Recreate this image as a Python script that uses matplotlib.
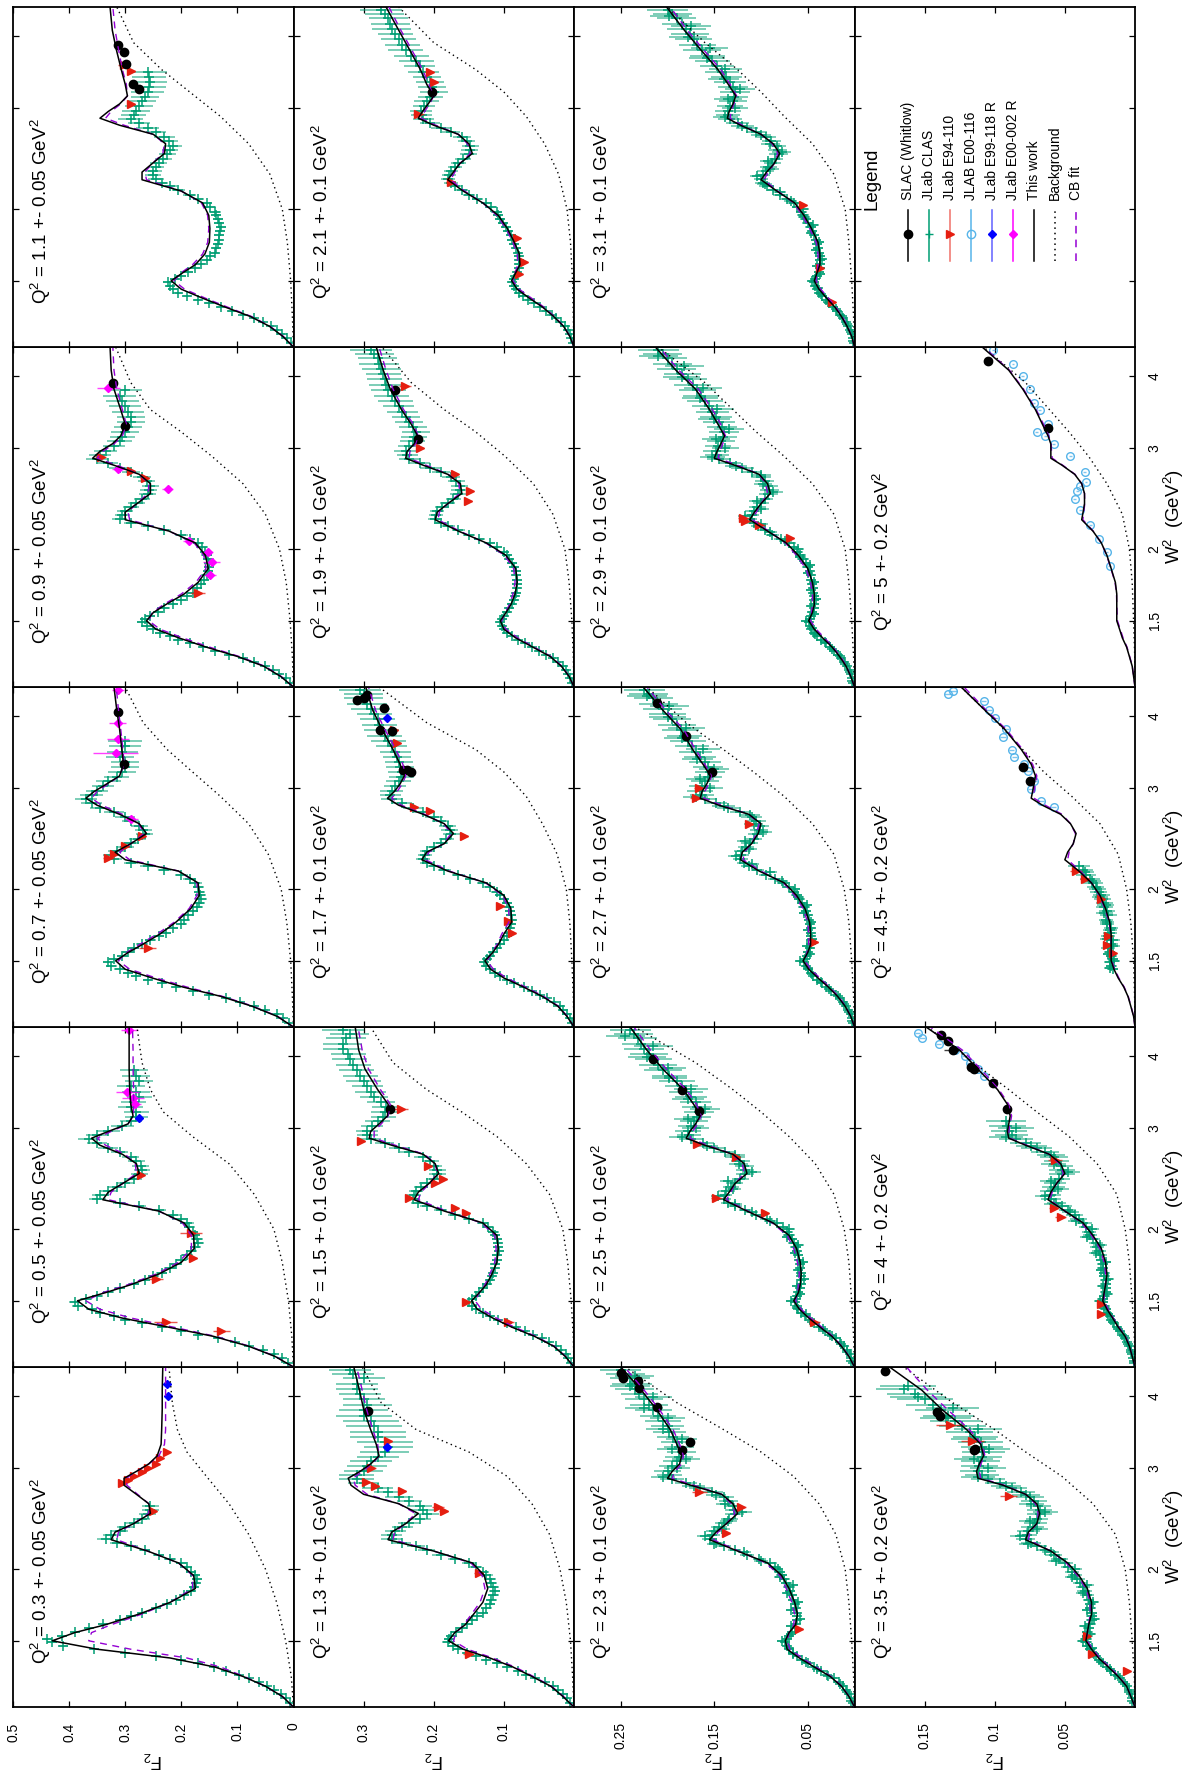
import matplotlib
matplotlib.use('Agg')
import matplotlib.pyplot as plt
from matplotlib.ticker import FixedLocator, NullLocator

plt.rcParams['font.family'] = ['Liberation Sans', 'DejaVu Sans']
plt.rcParams['mathtext.default'] = 'regular'

# ---------------- data ----------------
# W^2 points where the model curves were read
w2_grid = [1.15, 1.2, 1.25, 1.3, 1.35, 1.4, 1.45, 1.5, 1.55, 1.6, 1.67, 1.75, 1.85, 1.95, 2.05, 2.15,
           2.25, 2.32, 2.4, 2.5, 2.6, 2.7, 2.8, 2.88, 2.96, 3.05, 3.15, 3.3, 3.5, 3.8, 4.1, 4.5]
# W^2 points for the background curves
w2_bg = [1.15, 1.3, 1.5, 1.75, 2.0, 2.3, 2.6, 2.9, 3.2, 3.5, 3.9, 4.5]
# W^2 bins of the JLab CLAS data (three interleaved Q^2 sub-bins)
w2_clas = [1.17, 1.21, 1.25, 1.29, 1.33, 1.37, 1.41, 1.45, 1.49, 1.53, 1.58, 1.63, 1.68, 1.74, 1.8, 1.86,
           1.92, 1.98, 2.05, 2.12, 2.19, 2.26, 2.33, 2.41, 2.49, 2.58, 2.67, 2.77, 2.87, 2.97, 3.08, 3.2,
           3.33, 3.47, 3.62, 3.78, 3.95, 4.12, 4.3, 4.45]
w2_clas_mid = [1.19, 1.23, 1.27, 1.31, 1.35, 1.39, 1.43, 1.47, 1.51, 1.555, 1.605, 1.655, 1.71, 1.77, 1.83,
               1.89, 1.95, 2.015, 2.085, 2.155, 2.225, 2.295, 2.37, 2.45, 2.535, 2.625, 2.72, 2.82, 2.92,
               3.025, 3.14, 3.265, 3.4, 3.545, 3.7, 3.865, 4.035, 4.21, 4.375]
w2_clas_q = [1.18, 1.22, 1.26, 1.3, 1.34, 1.38, 1.42, 1.46, 1.5, 1.54, 1.59, 1.64, 1.695, 1.755, 1.815,
             1.875, 1.935, 2.0, 2.07, 2.14, 2.21, 2.28, 2.35, 2.43, 2.51, 2.6, 2.69, 2.795, 2.895, 3.0,
             3.11, 3.235, 3.365, 3.51, 3.66, 3.82, 3.99, 4.17, 4.34]

q2_labels = ['0.3 +- 0.05', '0.5 +- 0.05', '0.7 +- 0.05', '0.9 +- 0.05', '1.1 +- 0.05',
             '1.3 +- 0.1', '1.5 +- 0.1', '1.7 +- 0.1', '1.9 +- 0.1', '2.1 +- 0.1',
             '2.3 +- 0.1', '2.5 +- 0.1', '2.7 +- 0.1', '2.9 +- 0.1', '3.1 +- 0.1',
             '3.5 +- 0.2', '4 +- 0.2', '4.5 +- 0.2', '5 +- 0.2']

# "This work" fits
tw_03 = [0.0, 0.02, 0.05, 0.09, 0.14, 0.22, 0.35, 0.43, 0.39, 0.335, 0.275, 0.22, 0.175, 0.178, 0.205, 0.26, 0.325, 0.318, 0.285, 0.255, 0.258, 0.28, 0.302, 0.302, 0.28, 0.258, 0.243, 0.236, 0.235, 0.234, 0.234, 0.233]
tw_05 = [0.0, 0.033, 0.08, 0.142, 0.224, 0.306, 0.365, 0.385, 0.335, 0.29, 0.24, 0.2, 0.177, 0.178, 0.195, 0.24, 0.34, 0.33, 0.305, 0.275, 0.28, 0.305, 0.345, 0.36, 0.33, 0.295, 0.286, 0.29, 0.292, 0.293, 0.293, 0.293]
tw_07 = [0.0, 0.029, 0.074, 0.129, 0.197, 0.252, 0.3, 0.317, 0.295, 0.27, 0.238, 0.21, 0.183, 0.168, 0.17, 0.205, 0.3, 0.318, 0.29, 0.262, 0.275, 0.31, 0.35, 0.37, 0.355, 0.333, 0.31, 0.303, 0.306, 0.31, 0.315, 0.32]
tw_09 = [0.0, 0.023, 0.053, 0.1, 0.156, 0.204, 0.245, 0.262, 0.25, 0.228, 0.195, 0.17, 0.152, 0.157, 0.175, 0.222, 0.3, 0.3, 0.279, 0.255, 0.255, 0.275, 0.32, 0.358, 0.345, 0.323, 0.308, 0.3, 0.308, 0.32, 0.325, 0.327]
tw_11 = [0.0, 0.019, 0.043, 0.077, 0.122, 0.163, 0.2, 0.218, 0.197, 0.175, 0.158, 0.15, 0.149, 0.151, 0.162, 0.2, 0.27, 0.27, 0.252, 0.23, 0.228, 0.25, 0.31, 0.345, 0.33, 0.31, 0.296, 0.3, 0.307, 0.316, 0.323, 0.327]
tw_13 = [0.0, 0.016, 0.033, 0.06, 0.087, 0.12, 0.158, 0.179, 0.17, 0.155, 0.143, 0.13, 0.123, 0.128, 0.145, 0.2, 0.265, 0.26, 0.24, 0.222, 0.25, 0.3, 0.318, 0.322, 0.305, 0.29, 0.278, 0.282, 0.29, 0.3, 0.306, 0.314]
tw_15 = [0.0, 0.0125, 0.029, 0.056, 0.089, 0.116, 0.138, 0.146, 0.135, 0.125, 0.117, 0.11, 0.108, 0.11, 0.13, 0.185, 0.228, 0.222, 0.207, 0.193, 0.198, 0.215, 0.26, 0.292, 0.29, 0.278, 0.266, 0.265, 0.28, 0.298, 0.307, 0.312]
tw_17 = [0.0, 0.01, 0.023, 0.045, 0.072, 0.1, 0.119, 0.127, 0.116, 0.108, 0.1, 0.089, 0.09, 0.1, 0.125, 0.18, 0.217, 0.21, 0.185, 0.172, 0.185, 0.215, 0.25, 0.266, 0.256, 0.248, 0.242, 0.248, 0.258, 0.274, 0.287, 0.297]
tw_19 = [0.0, 0.007, 0.018, 0.034, 0.059, 0.083, 0.1, 0.105, 0.097, 0.09, 0.084, 0.081, 0.083, 0.097, 0.125, 0.165, 0.198, 0.195, 0.18, 0.16, 0.162, 0.18, 0.215, 0.24, 0.238, 0.228, 0.223, 0.232, 0.246, 0.262, 0.272, 0.282]
tw_21 = [0.0, 0.006, 0.015, 0.029, 0.045, 0.064, 0.081, 0.089, 0.083, 0.077, 0.078, 0.085, 0.095, 0.108, 0.13, 0.158, 0.18, 0.172, 0.163, 0.145, 0.15, 0.165, 0.2, 0.222, 0.216, 0.208, 0.2, 0.21, 0.219, 0.235, 0.25, 0.268]
tw_23 = [0.0, 0.006, 0.014, 0.026, 0.043, 0.059, 0.072, 0.074, 0.07, 0.063, 0.061, 0.064, 0.07, 0.078, 0.093, 0.125, 0.155, 0.148, 0.137, 0.125, 0.13, 0.142, 0.175, 0.2, 0.195, 0.187, 0.185, 0.19, 0.197, 0.212, 0.228, 0.25]
tw_25 = [0.0, 0.006, 0.014, 0.024, 0.037, 0.049, 0.059, 0.065, 0.06, 0.058, 0.057, 0.058, 0.062, 0.07, 0.087, 0.115, 0.14, 0.134, 0.128, 0.115, 0.118, 0.13, 0.16, 0.18, 0.176, 0.17, 0.165, 0.172, 0.183, 0.205, 0.222, 0.24]
tw_27 = [0.0, 0.004, 0.01, 0.018, 0.028, 0.039, 0.049, 0.055, 0.05, 0.047, 0.047, 0.048, 0.053, 0.062, 0.075, 0.102, 0.122, 0.12, 0.11, 0.103, 0.1, 0.113, 0.145, 0.165, 0.163, 0.158, 0.154, 0.162, 0.173, 0.186, 0.205, 0.226]
tw_29 = [0.0, 0.004, 0.009, 0.016, 0.024, 0.034, 0.043, 0.049, 0.045, 0.043, 0.043, 0.045, 0.05, 0.06, 0.073, 0.093, 0.112, 0.107, 0.1, 0.09, 0.093, 0.102, 0.128, 0.15, 0.147, 0.143, 0.139, 0.146, 0.155, 0.17, 0.191, 0.213]
tw_31 = [0.0, 0.003, 0.008, 0.014, 0.021, 0.03, 0.038, 0.043, 0.04, 0.037, 0.037, 0.039, 0.046, 0.054, 0.064, 0.083, 0.1, 0.094, 0.086, 0.08, 0.087, 0.1, 0.122, 0.136, 0.134, 0.13, 0.127, 0.135, 0.146, 0.165, 0.182, 0.201]
tw_35 = [0.0, 0.003, 0.006, 0.012, 0.019, 0.026, 0.031, 0.035, 0.034, 0.033, 0.031, 0.031, 0.034, 0.04, 0.048, 0.06, 0.078, 0.076, 0.07, 0.068, 0.07, 0.078, 0.094, 0.112, 0.113, 0.111, 0.108, 0.11, 0.12, 0.138, 0.152, 0.175]
tw_40 = [0.0, 0.002, 0.004, 0.007, 0.012, 0.016, 0.02, 0.023, 0.022, 0.021, 0.02, 0.021, 0.024, 0.03, 0.037, 0.05, 0.062, 0.06, 0.056, 0.05, 0.053, 0.061, 0.078, 0.09, 0.091, 0.09, 0.089, 0.091, 0.098, 0.112, 0.125, 0.149]
tw_45 = [0.0, 0.001, 0.003, 0.005, 0.008, 0.012, 0.015, 0.017, 0.017, 0.017, 0.017, 0.018, 0.021, 0.025, 0.031, 0.04, 0.05, 0.048, 0.044, 0.042, 0.046, 0.053, 0.066, 0.074, 0.073, 0.072, 0.071, 0.074, 0.081, 0.093, 0.107, 0.124]
tw_50 = [0.0, 0.001, 0.002, 0.004, 0.006, 0.009, 0.011, 0.013, 0.013, 0.013, 0.013, 0.014, 0.017, 0.02, 0.024, 0.03, 0.038, 0.037, 0.036, 0.036, 0.038, 0.043, 0.052, 0.06, 0.06, 0.06, 0.062, 0.066, 0.071, 0.08, 0.09, 0.109]

# CB fits
cb_03 = [0.0, 0.02, 0.05, 0.088, 0.13, 0.19, 0.29, 0.365, 0.36, 0.325, 0.27, 0.22, 0.18, 0.18, 0.205, 0.26, 0.315, 0.312, 0.285, 0.258, 0.258, 0.278, 0.297, 0.298, 0.28, 0.258, 0.24, 0.23, 0.228, 0.228, 0.228, 0.228]
cb_05 = [0.0, 0.032, 0.078, 0.138, 0.215, 0.29, 0.345, 0.37, 0.34, 0.295, 0.245, 0.205, 0.182, 0.182, 0.198, 0.24, 0.33, 0.325, 0.305, 0.28, 0.282, 0.3, 0.335, 0.35, 0.325, 0.295, 0.285, 0.285, 0.285, 0.286, 0.286, 0.287]
cb_07 = [0.0, 0.028, 0.072, 0.126, 0.19, 0.245, 0.292, 0.312, 0.298, 0.275, 0.243, 0.213, 0.186, 0.172, 0.172, 0.205, 0.292, 0.31, 0.29, 0.266, 0.276, 0.305, 0.342, 0.36, 0.35, 0.33, 0.31, 0.302, 0.304, 0.308, 0.312, 0.316]
cb_09 = [0.0, 0.022, 0.051, 0.097, 0.15, 0.197, 0.238, 0.258, 0.252, 0.232, 0.2, 0.174, 0.156, 0.16, 0.177, 0.222, 0.292, 0.295, 0.28, 0.259, 0.258, 0.275, 0.315, 0.35, 0.34, 0.32, 0.305, 0.298, 0.305, 0.315, 0.32, 0.322]
cb_11 = [0.0, 0.018, 0.042, 0.075, 0.118, 0.158, 0.194, 0.213, 0.2, 0.18, 0.162, 0.153, 0.151, 0.153, 0.164, 0.2, 0.262, 0.265, 0.252, 0.233, 0.23, 0.25, 0.302, 0.335, 0.325, 0.308, 0.296, 0.298, 0.305, 0.312, 0.318, 0.322]
cb_13 = [0.0, 0.015, 0.032, 0.058, 0.084, 0.116, 0.152, 0.172, 0.168, 0.157, 0.146, 0.134, 0.127, 0.131, 0.147, 0.2, 0.258, 0.256, 0.24, 0.226, 0.25, 0.295, 0.312, 0.315, 0.302, 0.288, 0.278, 0.28, 0.287, 0.296, 0.302, 0.31]
cb_15 = [0.0, 0.012, 0.028, 0.054, 0.085, 0.111, 0.132, 0.141, 0.135, 0.127, 0.12, 0.113, 0.111, 0.113, 0.132, 0.182, 0.222, 0.218, 0.206, 0.195, 0.198, 0.213, 0.255, 0.285, 0.285, 0.275, 0.265, 0.262, 0.276, 0.293, 0.302, 0.308]
cb_17 = [0.0, 0.0095, 0.022, 0.043, 0.069, 0.096, 0.115, 0.124, 0.117, 0.11, 0.103, 0.093, 0.093, 0.102, 0.126, 0.178, 0.212, 0.207, 0.186, 0.175, 0.186, 0.213, 0.246, 0.26, 0.252, 0.245, 0.24, 0.244, 0.254, 0.27, 0.283, 0.293]
cb_19 = [0.0, 0.007, 0.017, 0.033, 0.057, 0.08, 0.097, 0.103, 0.098, 0.092, 0.087, 0.084, 0.086, 0.099, 0.126, 0.163, 0.194, 0.192, 0.18, 0.163, 0.164, 0.179, 0.211, 0.235, 0.234, 0.226, 0.222, 0.229, 0.243, 0.258, 0.268, 0.278]
cb_21 = [0.0, 0.0058, 0.0145, 0.028, 0.043, 0.061, 0.078, 0.087, 0.084, 0.08, 0.081, 0.087, 0.097, 0.11, 0.13, 0.156, 0.176, 0.17, 0.163, 0.148, 0.152, 0.165, 0.197, 0.218, 0.213, 0.206, 0.2, 0.207, 0.216, 0.232, 0.247, 0.264]
cb_23 = [0.0, 0.0058, 0.0135, 0.025, 0.041, 0.056, 0.069, 0.072, 0.07, 0.065, 0.064, 0.067, 0.073, 0.08, 0.095, 0.124, 0.151, 0.146, 0.137, 0.128, 0.132, 0.142, 0.172, 0.195, 0.192, 0.185, 0.183, 0.187, 0.194, 0.209, 0.225, 0.246]
cb_25 = [0.0, 0.0058, 0.0135, 0.023, 0.035, 0.047, 0.057, 0.063, 0.061, 0.06, 0.059, 0.061, 0.065, 0.072, 0.088, 0.114, 0.137, 0.132, 0.128, 0.118, 0.12, 0.13, 0.157, 0.176, 0.173, 0.168, 0.164, 0.169, 0.18, 0.201, 0.218, 0.236]
cb_27 = [0.0, 0.004, 0.0095, 0.017, 0.027, 0.037, 0.047, 0.053, 0.051, 0.049, 0.049, 0.05, 0.055, 0.064, 0.076, 0.1, 0.119, 0.118, 0.11, 0.105, 0.102, 0.113, 0.142, 0.161, 0.16, 0.156, 0.153, 0.16, 0.17, 0.183, 0.202, 0.222]
cb_29 = [0.0, 0.004, 0.0085, 0.015, 0.023, 0.032, 0.041, 0.047, 0.046, 0.045, 0.045, 0.047, 0.052, 0.062, 0.074, 0.092, 0.109, 0.105, 0.1, 0.093, 0.095, 0.102, 0.125, 0.146, 0.144, 0.141, 0.138, 0.143, 0.152, 0.167, 0.188, 0.209]
cb_31 = [0.0, 0.003, 0.0075, 0.013, 0.02, 0.028, 0.036, 0.041, 0.04, 0.039, 0.039, 0.041, 0.048, 0.056, 0.065, 0.082, 0.097, 0.092, 0.086, 0.082, 0.088, 0.1, 0.12, 0.133, 0.132, 0.129, 0.126, 0.133, 0.143, 0.162, 0.179, 0.197]
cb_35 = [0.0, 0.003, 0.0058, 0.0115, 0.018, 0.025, 0.03, 0.034, 0.034, 0.033, 0.032, 0.032, 0.035, 0.041, 0.049, 0.06, 0.076, 0.075, 0.07, 0.069, 0.071, 0.078, 0.093, 0.11, 0.111, 0.11, 0.107, 0.109, 0.118, 0.134, 0.148, 0.163]
cb_40 = [0.0, 0.002, 0.0038, 0.0067, 0.0115, 0.0155, 0.0192, 0.022, 0.022, 0.021, 0.021, 0.022, 0.025, 0.031, 0.038, 0.05, 0.061, 0.059, 0.056, 0.051, 0.054, 0.061, 0.077, 0.089, 0.09, 0.089, 0.088, 0.09, 0.097, 0.11, 0.123, 0.146]
cb_45 = [0.0, 0.001, 0.0028, 0.0048, 0.0077, 0.0115, 0.0145, 0.0165, 0.0168, 0.017, 0.0172, 0.0185, 0.0215, 0.0255, 0.031, 0.039, 0.048, 0.047, 0.044, 0.0425, 0.046, 0.052, 0.064, 0.072, 0.072, 0.071, 0.07, 0.073, 0.08, 0.092, 0.106, 0.122]
cb_50 = [0.0, 0.001, 0.0019, 0.0038, 0.0057, 0.0085, 0.0105, 0.0125, 0.0128, 0.013, 0.0132, 0.0142, 0.0172, 0.0202, 0.024, 0.0298, 0.0372, 0.0365, 0.0358, 0.036, 0.038, 0.0428, 0.0515, 0.059, 0.0595, 0.0598, 0.0615, 0.0652, 0.0705, 0.0795, 0.0895, 0.108]

# backgrounds
bg_03 = [0, 0.004, 0.014, 0.03, 0.05, 0.08, 0.115, 0.155, 0.19, 0.207, 0.216, 0.222]
bg_05 = [0, 0.003, 0.009, 0.02, 0.035, 0.07, 0.115, 0.18, 0.232, 0.255, 0.27, 0.279]
bg_07 = [0, 0.002, 0.005, 0.012, 0.022, 0.045, 0.08, 0.13, 0.18, 0.225, 0.268, 0.3]
bg_09 = [0, 0.002, 0.006, 0.013, 0.025, 0.05, 0.09, 0.145, 0.2, 0.255, 0.29, 0.317]
bg_11 = [0, 0.002, 0.005, 0.011, 0.02, 0.042, 0.08, 0.13, 0.185, 0.235, 0.285, 0.315]
bg_13 = [0, 0.002, 0.005, 0.011, 0.02, 0.035, 0.06, 0.095, 0.15, 0.225, 0.275, 0.302]
bg_15 = [0, 0.001, 0.004, 0.009, 0.016, 0.035, 0.068, 0.11, 0.16, 0.21, 0.258, 0.29]
bg_17 = [0, 0.001, 0.003, 0.006, 0.011, 0.024, 0.045, 0.068, 0.1, 0.14, 0.21, 0.278]
bg_19 = [0, 0.001, 0.003, 0.007, 0.013, 0.03, 0.058, 0.098, 0.14, 0.185, 0.232, 0.274]
bg_21 = [0, 0.001, 0.002, 0.005, 0.01, 0.022, 0.042, 0.068, 0.1, 0.14, 0.2, 0.25]
bg_23 = [0, 0.001, 0.003, 0.006, 0.01, 0.02, 0.038, 0.065, 0.1, 0.14, 0.19, 0.245]
bg_25 = [0, 0.001, 0.003, 0.006, 0.011, 0.022, 0.042, 0.07, 0.1, 0.13, 0.17, 0.235]
bg_27 = [0, 0.001, 0.003, 0.006, 0.011, 0.022, 0.045, 0.075, 0.108, 0.14, 0.18, 0.222]
bg_29 = [0, 0.001, 0.003, 0.006, 0.01, 0.022, 0.045, 0.075, 0.105, 0.13, 0.16, 0.21]
bg_31 = [0, 0.001, 0.003, 0.006, 0.01, 0.022, 0.045, 0.075, 0.1, 0.125, 0.16, 0.2]
bg_35 = [0, 0.0005, 0.002, 0.004, 0.007, 0.014, 0.03, 0.052, 0.078, 0.1, 0.13, 0.165]
bg_40 = [0, 0.0005, 0.002, 0.004, 0.007, 0.013, 0.027, 0.047, 0.07, 0.09, 0.115, 0.148]
bg_45 = [0, 0.0003, 0.001, 0.003, 0.006, 0.012, 0.025, 0.045, 0.065, 0.08, 0.098, 0.124]
bg_50 = [0, 0.0002, 0.001, 0.002, 0.004, 0.009, 0.02, 0.033, 0.047, 0.061, 0.078, 0.108]

# JLab CLAS F2 per sub-bin (on w2_clas, w2_clas_mid, w2_clas_q); 0 = no point
clas_03 = [0.007, 0.022, 0.048, 0.08, 0.12, 0.17, 0.245, 0.355, 0.43, 0.412, 0.365, 0.31, 0.27, 0.225, 0.195, 0.178, 0.172, 0.182, 0.2, 0.24, 0.29, 0.335, 0.31, 0.285, 0.26, 0.255]
clas_05 = [0.01, 0.035, 0.08, 0.135, 0.2, 0.27, 0.32, 0.36, 0.39, 0.35, 0.31, 0.265, 0.235, 0.21, 0.19, 0.175, 0.172, 0.18, 0.19, 0.215, 0.275, 0.35, 0.33, 0.3, 0.275, 0.272, 0.29, 0.33, 0.365, 0.33, 0.29, 0.28, 0.285, 0.28, 0.275, 0.285]
clas_07 = [0.008, 0.03, 0.07, 0.12, 0.18, 0.235, 0.28, 0.31, 0.33, 0.305, 0.285, 0.255, 0.228, 0.2, 0.188, 0.172, 0.165, 0.168, 0.175, 0.2, 0.26, 0.32, 0.315, 0.29, 0.265, 0.275, 0.3, 0.345, 0.37, 0.35, 0.33, 0.305, 0.3, 0.305, 0.3]
clas_09 = [0.006, 0.025, 0.05, 0.09, 0.14, 0.185, 0.22, 0.25, 0.27, 0.255, 0.23, 0.2, 0.18, 0.165, 0.155, 0.15, 0.152, 0.157, 0.17, 0.2, 0.26, 0.31, 0.3, 0.28, 0.26, 0.255, 0.27, 0.31, 0.35, 0.335, 0.31, 0.3, 0.29, 0.295, 0.305, 0.3]
clas_11 = [0.005, 0.02, 0.04, 0.07, 0.11, 0.15, 0.19, 0.215, 0.224, 0.2, 0.175, 0.155, 0.14, 0.135, 0.132, 0.13, 0.135, 0.14, 0.155, 0.185, 0.22, 0.245, 0.25, 0.24, 0.225, 0.215, 0.23, 0.26, 0.29, 0.28, 0.27, 0.26, 0.255, 0.26]
clas_13 = [0.005, 0.016, 0.03, 0.055, 0.08, 0.11, 0.14, 0.165, 0.18, 0.175, 0.16, 0.145, 0.13, 0.12, 0.115, 0.115, 0.12, 0.13, 0.15, 0.19, 0.225, 0.26, 0.255, 0.235, 0.21, 0.22, 0.25, 0.28, 0.31, 0.3, 0.29, 0.27, 0.27, 0.28, 0.29, 0.3, 0.3, 0.31, 0.3, 0.32]
clas_15 = [0.004, 0.012, 0.025, 0.045, 0.07, 0.095, 0.12, 0.14, 0.15, 0.14, 0.13, 0.12, 0.115, 0.112, 0.11, 0.108, 0.11, 0.115, 0.13, 0.17, 0.21, 0.23, 0.225, 0.21, 0.195, 0.2, 0.215, 0.25, 0.29, 0.295, 0.28, 0.27, 0.275, 0.29, 0.3, 0.31, 0.32, 0.33, 0.325, 0.33]
clas_17 = [0.003, 0.01, 0.02, 0.038, 0.06, 0.085, 0.105, 0.12, 0.128, 0.12, 0.11, 0.1, 0.093, 0.09, 0.09, 0.092, 0.1, 0.11, 0.13, 0.165, 0.2, 0.215, 0.21, 0.19, 0.175, 0.18, 0.2, 0.23, 0.26, 0.26, 0.25, 0.245, 0.25, 0.255, 0.265, 0.275, 0.28, 0.29, 0.3, 0.305]
clas_19 = [0.003, 0.008, 0.016, 0.03, 0.05, 0.07, 0.088, 0.1, 0.105, 0.1, 0.092, 0.086, 0.082, 0.081, 0.082, 0.085, 0.092, 0.1, 0.12, 0.15, 0.18, 0.198, 0.195, 0.18, 0.165, 0.163, 0.175, 0.205, 0.235, 0.24, 0.23, 0.225, 0.235, 0.245, 0.255, 0.265, 0.27, 0.275, 0.28, 0.29]
clas_21 = [0.002, 0.006, 0.013, 0.025, 0.04, 0.057, 0.073, 0.083, 0.088, 0.084, 0.079, 0.078, 0.08, 0.085, 0.09, 0.097, 0.105, 0.11, 0.125, 0.15, 0.17, 0.18, 0.175, 0.165, 0.15, 0.148, 0.16, 0.19, 0.215, 0.218, 0.21, 0.2, 0.205, 0.215, 0.225, 0.24, 0.25, 0.26, 0.265, 0.275]
clas_23 = [0.002, 0.006, 0.012, 0.022, 0.036, 0.05, 0.062, 0.07, 0.074, 0.07, 0.064, 0.062, 0.062, 0.064, 0.067, 0.07, 0.075, 0.08, 0.09, 0.115, 0.14, 0.155, 0.15, 0.14, 0.128, 0.13, 0.14, 0.165, 0.195, 0.2, 0.19, 0.185, 0.19, 0.198, 0.205, 0.215, 0.225, 0.235, 0.24, 0.25]
clas_25 = [0.002, 0.005, 0.011, 0.02, 0.032, 0.043, 0.053, 0.06, 0.064, 0.061, 0.058, 0.057, 0.057, 0.058, 0.06, 0.063, 0.067, 0.072, 0.083, 0.105, 0.128, 0.14, 0.137, 0.128, 0.117, 0.118, 0.128, 0.15, 0.175, 0.178, 0.172, 0.166, 0.17, 0.18, 0.19, 0.205, 0.215, 0.225, 0.232, 0.24]
clas_27 = [0.0015, 0.004, 0.009, 0.016, 0.025, 0.035, 0.044, 0.05, 0.054, 0.051, 0.048, 0.047, 0.047, 0.048, 0.05, 0.054, 0.059, 0.065, 0.076, 0.095, 0.113, 0.122, 0.12, 0.112, 0.104, 0.101, 0.11, 0.135, 0.16, 0.165, 0.16, 0.155, 0.16, 0.17, 0.178, 0.186, 0.195, 0.205, 0.215, 0.225]
clas_29 = [0.0015, 0.004, 0.008, 0.014, 0.022, 0.031, 0.04, 0.046, 0.049, 0.046, 0.043, 0.043, 0.044, 0.045, 0.047, 0.05, 0.055, 0.061, 0.07, 0.088, 0.103, 0.112, 0.108, 0.1, 0.092, 0.092, 0.1, 0.12, 0.145, 0.148, 0.143, 0.14, 0.145, 0.152, 0.16, 0.168, 0.178, 0.19, 0.2, 0.21]
clas_31 = [0.001, 0.003, 0.007, 0.012, 0.019, 0.027, 0.035, 0.04, 0.043, 0.04, 0.037, 0.037, 0.038, 0.04, 0.043, 0.047, 0.052, 0.057, 0.065, 0.08, 0.094, 0.1, 0.095, 0.088, 0.081, 0.083, 0.095, 0.115, 0.133, 0.135, 0.13, 0.128, 0.133, 0.142, 0.152, 0.163, 0.172, 0.18, 0.19, 0.2]
clas_35 = [0.001, 0.003, 0.006, 0.011, 0.017, 0.023, 0.028, 0.032, 0.035, 0.034, 0.033, 0.031, 0.031, 0.032, 0.034, 0.037, 0.041, 0.045, 0.05, 0.058, 0.07, 0.078, 0.076, 0.071, 0.068, 0.069, 0.075, 0.088, 0.105, 0.112, 0.11, 0.108, 0.11, 0.118, 0.128, 0.138, 0.15, 0.165]
clas_40 = [0.0005, 0.002, 0.004, 0.007, 0.011, 0.015, 0.018, 0.021, 0.023, 0.022, 0.021, 0.021, 0.022, 0.023, 0.025, 0.027, 0.03, 0.033, 0.037, 0.043, 0.052, 0.06, 0.06, 0.057, 0.052, 0.053, 0.058, 0.07, 0.085, 0.09, 0.092]
clas_45 = [0, 0, 0, 0, 0, 0, 0, 0.016, 0.018, 0.017, 0.019, 0.016, 0.018, 0.02, 0.019, 0.022, 0.023, 0.026, 0.03, 0.035, 0.04]

clas2_03 = [0.014, 0.034, 0.062, 0.098, 0.142, 0.2, 0.3, 0.41, 0.44, 0.39, 0.34, 0.29, 0.245, 0.21, 0.183, 0.174, 0.176, 0.19, 0.22, 0.265, 0.315, 0.325, 0.3, 0.27, 0.255]
clas2_05 = [0.02, 0.055, 0.105, 0.17, 0.235, 0.3, 0.345, 0.385, 0.37, 0.33, 0.285, 0.25, 0.22, 0.2, 0.182, 0.17, 0.176, 0.186, 0.2, 0.24, 0.31, 0.345, 0.315, 0.285, 0.27, 0.28, 0.31, 0.35, 0.35, 0.305, 0.28, 0.29, 0.275, 0.29, 0.28]
clas2_07 = [0.018, 0.05, 0.095, 0.15, 0.21, 0.26, 0.295, 0.325, 0.32, 0.295, 0.27, 0.24, 0.215, 0.195, 0.18, 0.168, 0.166, 0.17, 0.185, 0.23, 0.29, 0.325, 0.3, 0.278, 0.268, 0.29, 0.32, 0.36, 0.36, 0.34, 0.315, 0.3, 0.31, 0.3]
clas2_09 = [0.014, 0.037, 0.07, 0.115, 0.162, 0.205, 0.238, 0.262, 0.265, 0.242, 0.215, 0.19, 0.172, 0.16, 0.152, 0.15, 0.155, 0.163, 0.185, 0.23, 0.29, 0.305, 0.29, 0.27, 0.258, 0.262, 0.29, 0.33, 0.345, 0.32, 0.305, 0.295, 0.29, 0.3, 0.31]
clas2_11 = [0.012, 0.03, 0.055, 0.09, 0.13, 0.17, 0.205, 0.22, 0.212, 0.188, 0.165, 0.148, 0.138, 0.133, 0.131, 0.132, 0.138, 0.148, 0.17, 0.205, 0.235, 0.25, 0.245, 0.232, 0.22, 0.222, 0.245, 0.275, 0.285, 0.275, 0.265, 0.258, 0.258]
clas2_13 = [0.01, 0.023, 0.042, 0.068, 0.095, 0.125, 0.152, 0.172, 0.178, 0.168, 0.152, 0.138, 0.125, 0.118, 0.113, 0.118, 0.125, 0.14, 0.17, 0.21, 0.245, 0.26, 0.245, 0.22, 0.215, 0.235, 0.265, 0.3, 0.31, 0.295, 0.28, 0.265, 0.28, 0.285, 0.3, 0.295, 0.305, 0.31, 0.315]
clas2_15 = [0.008, 0.018, 0.035, 0.058, 0.083, 0.108, 0.13, 0.146, 0.145, 0.135, 0.124, 0.117, 0.113, 0.11, 0.107, 0.109, 0.112, 0.122, 0.15, 0.19, 0.222, 0.228, 0.218, 0.2, 0.195, 0.205, 0.235, 0.27, 0.295, 0.288, 0.272, 0.268, 0.285, 0.295, 0.305, 0.315, 0.322, 0.33, 0.32]
clas2_17 = [0.006, 0.015, 0.029, 0.049, 0.072, 0.095, 0.113, 0.125, 0.124, 0.115, 0.105, 0.096, 0.091, 0.089, 0.091, 0.096, 0.105, 0.12, 0.148, 0.185, 0.21, 0.212, 0.2, 0.182, 0.177, 0.19, 0.215, 0.245, 0.262, 0.255, 0.246, 0.248, 0.252, 0.26, 0.27, 0.278, 0.285, 0.295, 0.3]
clas2_19 = [0.005, 0.012, 0.023, 0.04, 0.06, 0.08, 0.095, 0.103, 0.102, 0.096, 0.089, 0.084, 0.081, 0.081, 0.083, 0.088, 0.096, 0.11, 0.135, 0.165, 0.19, 0.197, 0.188, 0.172, 0.163, 0.168, 0.19, 0.22, 0.238, 0.235, 0.228, 0.23, 0.24, 0.25, 0.26, 0.268, 0.272, 0.278, 0.285]
clas2_21 = [0.004, 0.009, 0.019, 0.032, 0.048, 0.065, 0.078, 0.086, 0.086, 0.081, 0.078, 0.079, 0.082, 0.088, 0.094, 0.101, 0.108, 0.118, 0.138, 0.16, 0.176, 0.178, 0.17, 0.158, 0.149, 0.153, 0.175, 0.205, 0.217, 0.214, 0.205, 0.202, 0.21, 0.22, 0.232, 0.245, 0.255, 0.262, 0.27]
clas2_23 = [0.004, 0.009, 0.017, 0.029, 0.043, 0.056, 0.066, 0.072, 0.072, 0.067, 0.063, 0.062, 0.063, 0.066, 0.069, 0.073, 0.078, 0.085, 0.102, 0.128, 0.148, 0.152, 0.145, 0.134, 0.129, 0.135, 0.152, 0.18, 0.198, 0.195, 0.188, 0.188, 0.194, 0.2, 0.21, 0.22, 0.23, 0.238, 0.245]
clas2_25 = [0.0035, 0.008, 0.015, 0.026, 0.038, 0.048, 0.057, 0.062, 0.063, 0.06, 0.057, 0.057, 0.058, 0.059, 0.062, 0.065, 0.07, 0.077, 0.094, 0.117, 0.135, 0.139, 0.132, 0.122, 0.117, 0.122, 0.138, 0.162, 0.177, 0.175, 0.168, 0.168, 0.175, 0.185, 0.198, 0.21, 0.22, 0.228, 0.236]
clas2_27 = [0.0028, 0.0065, 0.012, 0.02, 0.03, 0.04, 0.047, 0.052, 0.053, 0.05, 0.047, 0.047, 0.047, 0.049, 0.052, 0.056, 0.062, 0.07, 0.085, 0.104, 0.118, 0.121, 0.116, 0.108, 0.102, 0.105, 0.122, 0.148, 0.163, 0.163, 0.157, 0.157, 0.165, 0.174, 0.182, 0.19, 0.2, 0.21, 0.22]
clas2_29 = [0.0027, 0.006, 0.011, 0.018, 0.026, 0.036, 0.043, 0.048, 0.048, 0.045, 0.043, 0.043, 0.044, 0.046, 0.048, 0.052, 0.058, 0.065, 0.079, 0.096, 0.108, 0.11, 0.104, 0.096, 0.091, 0.096, 0.11, 0.133, 0.147, 0.146, 0.141, 0.142, 0.148, 0.156, 0.164, 0.173, 0.184, 0.195, 0.205]
clas2_31 = [0.002, 0.005, 0.0095, 0.015, 0.023, 0.031, 0.038, 0.042, 0.042, 0.038, 0.037, 0.037, 0.039, 0.041, 0.045, 0.05, 0.055, 0.061, 0.072, 0.087, 0.098, 0.098, 0.092, 0.085, 0.082, 0.089, 0.105, 0.125, 0.135, 0.133, 0.129, 0.13, 0.137, 0.147, 0.157, 0.168, 0.176, 0.185, 0.195]
clas2_35 = [0.002, 0.0045, 0.0085, 0.014, 0.02, 0.026, 0.03, 0.034, 0.035, 0.034, 0.032, 0.031, 0.032, 0.033, 0.036, 0.039, 0.043, 0.048, 0.054, 0.064, 0.074, 0.077, 0.073, 0.07, 0.068, 0.072, 0.081, 0.096, 0.109, 0.111, 0.109, 0.109, 0.114, 0.123, 0.133, 0.144, 0.157]
clas2_40 = [0.0012, 0.003, 0.0055, 0.009, 0.013, 0.017, 0.02, 0.022, 0.023, 0.021, 0.021, 0.022, 0.023, 0.024, 0.026, 0.028, 0.032, 0.035, 0.04, 0.048, 0.056, 0.06, 0.058, 0.054, 0.052, 0.056, 0.064, 0.078, 0.088, 0.091]
clas2_45 = [0, 0, 0, 0, 0, 0, 0, 0.017, 0.016, 0.018, 0.017, 0.019, 0.017, 0.021, 0.02, 0.022, 0.024, 0.028, 0.032, 0.037]

clas3_23 = [0.004, 0.008, 0.016, 0.028, 0.04, 0.052, 0.066, 0.07, 0.078, 0.068, 0.068, 0.058, 0.068, 0.06, 0.072, 0.066, 0.08, 0.082, 0.1, 0.118, 0.15, 0.16, 0.142, 0.135, 0.12, 0.138, 0.148, 0.172, 0.205, 0.19, 0.18, 0.195, 0.185, 0.205, 0.2, 0.225, 0.215, 0.24, 0.235]
clas3_25 = [0.004, 0.008, 0.014, 0.024, 0.034, 0.045, 0.052, 0.062, 0.068, 0.058, 0.062, 0.054, 0.06, 0.055, 0.064, 0.06, 0.072, 0.07, 0.09, 0.11, 0.128, 0.146, 0.13, 0.135, 0.11, 0.124, 0.128, 0.158, 0.185, 0.17, 0.178, 0.16, 0.178, 0.175, 0.198, 0.2, 0.222, 0.215, 0.245]
clas3_27 = [0.003, 0.006, 0.011, 0.018, 0.027, 0.036, 0.045, 0.05, 0.058, 0.048, 0.051, 0.045, 0.05, 0.046, 0.054, 0.051, 0.06, 0.064, 0.078, 0.09, 0.11, 0.127, 0.113, 0.117, 0.098, 0.108, 0.112, 0.14, 0.17, 0.155, 0.165, 0.15, 0.168, 0.162, 0.185, 0.18, 0.2, 0.198, 0.222]
clas3_29 = [0.003, 0.005, 0.01, 0.016, 0.024, 0.032, 0.042, 0.045, 0.052, 0.043, 0.046, 0.041, 0.047, 0.043, 0.05, 0.048, 0.058, 0.06, 0.074, 0.09, 0.1, 0.117, 0.1, 0.104, 0.087, 0.098, 0.1, 0.127, 0.152, 0.138, 0.148, 0.134, 0.15, 0.147, 0.165, 0.162, 0.185, 0.182, 0.21]
clas3_31 = [0.002, 0.004, 0.008, 0.013, 0.02, 0.028, 0.036, 0.039, 0.045, 0.037, 0.04, 0.035, 0.041, 0.038, 0.046, 0.044, 0.054, 0.055, 0.068, 0.08, 0.096, 0.104, 0.09, 0.092, 0.078, 0.09, 0.1, 0.12, 0.138, 0.128, 0.135, 0.122, 0.14, 0.138, 0.158, 0.155, 0.178, 0.175, 0.198]
clas3_35 = [0.002, 0.004, 0.007, 0.012, 0.018, 0.024, 0.029, 0.031, 0.037, 0.032, 0.036, 0.029, 0.034, 0.03, 0.037, 0.034, 0.045, 0.043, 0.056, 0.06, 0.076, 0.082, 0.07, 0.075, 0.064, 0.074, 0.078, 0.092, 0.112, 0.105, 0.115, 0.104, 0.115, 0.112, 0.135, 0.13, 0.155, 0.162]
clas3_40 = [0.001, 0.0025, 0.005, 0.008, 0.012, 0.016, 0.019, 0.022, 0.025, 0.02, 0.023, 0.019, 0.024, 0.021, 0.028, 0.025, 0.034, 0.031, 0.042, 0.046, 0.058, 0.064, 0.055, 0.06, 0.048, 0.058, 0.06, 0.074, 0.092, 0.085]
clas3_45 = [0, 0, 0, 0, 0, 0, 0, 0.018, 0.015, 0.019, 0.016, 0.02, 0.018, 0.02, 0.022, 0.021, 0.025, 0.027, 0.031, 0.036]

err_03 = [0.003, 0.004, 0.004, 0.005, 0.005, 0.006, 0.007, 0.008, 0.009, 0.009, 0.008, 0.008, 0.008, 0.008, 0.008, 0.008, 0.009, 0.009, 0.01, 0.01, 0.012, 0.015, 0.015, 0.015, 0.015, 0.015]
err_05 = [0.003, 0.004, 0.005, 0.006, 0.007, 0.008, 0.009, 0.01, 0.01, 0.01, 0.01, 0.01, 0.01, 0.01, 0.01, 0.01, 0.01, 0.01, 0.012, 0.012, 0.012, 0.015, 0.015, 0.015, 0.015, 0.015, 0.015, 0.018, 0.02, 0.02, 0.02, 0.022, 0.022, 0.025, 0.025, 0.025]
err_07 = [0.003, 0.004, 0.005, 0.006, 0.007, 0.008, 0.009, 0.01, 0.01, 0.01, 0.01, 0.01, 0.01, 0.01, 0.01, 0.01, 0.01, 0.01, 0.012, 0.012, 0.013, 0.015, 0.015, 0.015, 0.015, 0.015, 0.018, 0.018, 0.02, 0.02, 0.022, 0.025, 0.025, 0.028, 0.03]
err_09 = [0.003, 0.004, 0.005, 0.006, 0.007, 0.008, 0.008, 0.009, 0.009, 0.009, 0.009, 0.009, 0.009, 0.009, 0.009, 0.009, 0.01, 0.01, 0.01, 0.012, 0.012, 0.014, 0.014, 0.015, 0.015, 0.015, 0.016, 0.018, 0.02, 0.02, 0.022, 0.025, 0.025, 0.028, 0.03, 0.03]
err_11 = [0.003, 0.004, 0.005, 0.005, 0.006, 0.007, 0.007, 0.008, 0.008, 0.008, 0.008, 0.008, 0.008, 0.008, 0.009, 0.009, 0.009, 0.01, 0.01, 0.012, 0.012, 0.014, 0.015, 0.015, 0.015, 0.016, 0.018, 0.02, 0.022, 0.025, 0.025, 0.03, 0.03, 0.035]
err_13 = [0.003, 0.004, 0.004, 0.005, 0.006, 0.006, 0.007, 0.007, 0.008, 0.008, 0.008, 0.008, 0.008, 0.008, 0.008, 0.008, 0.009, 0.009, 0.01, 0.012, 0.013, 0.015, 0.015, 0.016, 0.018, 0.018, 0.02, 0.022, 0.025, 0.028, 0.03, 0.035, 0.04, 0.04, 0.04, 0.035, 0.03, 0.03, 0.03, 0.03]
err_b = [0.002, 0.003, 0.004, 0.004, 0.005, 0.005, 0.006, 0.006, 0.006, 0.006, 0.006, 0.006, 0.006, 0.007, 0.007, 0.007, 0.007, 0.008, 0.008, 0.009, 0.01, 0.01, 0.01, 0.011, 0.012, 0.012, 0.013, 0.014, 0.015, 0.016, 0.018, 0.02, 0.02, 0.022, 0.025, 0.025, 0.025, 0.028, 0.028, 0.03]
err_c = [0.0015, 0.002, 0.002, 0.003, 0.003, 0.004, 0.004, 0.004, 0.005, 0.005, 0.005, 0.005, 0.005, 0.005, 0.005, 0.006, 0.006, 0.006, 0.007, 0.007, 0.008, 0.008, 0.009, 0.009, 0.01, 0.01, 0.011, 0.012, 0.013, 0.014, 0.015, 0.016, 0.017, 0.018, 0.019, 0.02, 0.02, 0.021, 0.021, 0.022]
err_d = [0.001, 0.0015, 0.002, 0.002, 0.003, 0.003, 0.003, 0.004, 0.004, 0.004, 0.004, 0.004, 0.004, 0.004, 0.005, 0.005, 0.005, 0.005, 0.006, 0.006, 0.007, 0.007, 0.008, 0.008, 0.009, 0.009, 0.01, 0.011, 0.012, 0.013, 0.014, 0.015, 0.016, 0.017, 0.018, 0.019, 0.02, 0.02]
err_45 = [0, 0, 0, 0, 0, 0, 0, 0.004, 0.004, 0.004, 0.005, 0.005, 0.005, 0.005, 0.006, 0.006, 0.006, 0.006, 0.007, 0.007, 0.008]

# other experiments: (W^2, F2, error)
slac_07 = [(3.3, 0.303, 0.004), (4.07, 0.313, 0.004)]
slac_09 = [(3.28, 0.3, 0.004), (3.9, 0.321, 0.004)]
slac_11 = [(3.24, 0.276, 0.004), (3.3, 0.286, 0.004), (3.58, 0.298, 0.004), (3.76, 0.303, 0.004), (3.87, 0.313, 0.004)]
slac_13 = [(3.77, 0.294, 0.004)]
slac_15 = [(3.24, 0.263, 0.004)]
slac_17 = [(3.2, 0.233, 0.004), (3.23, 0.244, 0.004), (3.22, 0.238, 0.004), (3.77, 0.26, 0.004), (3.79, 0.276, 0.004), (4.13, 0.271, 0.004), (4.27, 0.309, 0.004), (4.35, 0.295, 0.004), (4.3, 0.3, 0.004)]
slac_19 = [(3.11, 0.222, 0.004), (3.78, 0.255, 0.004)]
slac_21 = [(3.2, 0.203, 0.004)]
slac_23 = [(3.23, 0.185, 0.003), (3.33, 0.176, 0.003), (3.83, 0.211, 0.003), (4.14, 0.23, 0.003), (4.25, 0.232, 0.003), (4.3, 0.248, 0.003), (4.4, 0.25, 0.003)]
slac_25 = [(3.21, 0.166, 0.003), (3.49, 0.185, 0.003), (3.96, 0.215, 0.003)]
slac_27 = [(3.2, 0.152, 0.003), (3.7, 0.18, 0.003), (4.22, 0.211, 0.003)]
slac_35 = [(3.22, 0.115, 0.003), (3.24, 0.114, 0.003), (3.7, 0.139, 0.003), (3.75, 0.141, 0.003), (4.43, 0.178, 0.003)]
slac_40 = [(3.24, 0.091, 0.002), (3.6, 0.101, 0.002), (3.8, 0.115, 0.002), (3.83, 0.117, 0.002), (4.1, 0.13, 0.006), (4.25, 0.133, 0.002), (4.35, 0.138, 0.002)]
slac_45 = [(3.08, 0.075, 0.002), (3.27, 0.08, 0.002)]
slac_50 = [(3.25, 0.062, 0.002), (4.26, 0.105, 0.002)]

e94_03 = [(2.52, 0.25, 0.005), (2.82, 0.305, 0.006), (2.86, 0.295, 0.005), (2.9, 0.285, 0.005), (2.95, 0.27, 0.005), (3.0, 0.26, 0.005), (3.05, 0.245, 0.005), (3.12, 0.238, 0.005), (3.2, 0.225, 0.005)]
e94_05 = [(1.33, 0.129, 0.015), (1.38, 0.228, 0.02), (1.64, 0.245, 0.012), (1.78, 0.18, 0.008), (1.97, 0.183, 0.02), (2.48, 0.272, 0.006)]
e94_07 = [(1.58, 0.26, 0.015), (2.27, 0.33, 0.01), (2.3, 0.32, 0.006), (2.38, 0.3, 0.006), (2.47, 0.27, 0.006)]
e94_09 = [(1.68, 0.17, 0.012), (2.66, 0.265, 0.008), (2.74, 0.29, 0.006), (2.89, 0.344, 0.01)]
e94_11 = [(3.05, 0.289, 0.006), (3.48, 0.289, 0.006), (3.56, 0.303, 0.01)]
e94_13 = [(1.42, 0.15, 0.008), (1.97, 0.136, 0.006), (2.53, 0.186, 0.006), (2.57, 0.194, 0.008), (2.74, 0.245, 0.006), (2.79, 0.284, 0.006), (2.84, 0.297, 0.006), (3.0, 0.289, 0.006), (3.34, 0.265, 0.006)]
e94_15 = [(1.38, 0.094, 0.008), (1.49, 0.154, 0.005), (2.13, 0.154, 0.005), (2.18, 0.17, 0.005), (2.27, 0.236, 0.005), (2.41, 0.198, 0.006), (2.45, 0.187, 0.006), (2.58, 0.208, 0.006), (2.85, 0.304, 0.006), (3.24, 0.247, 0.01)]
e94_17 = [(1.68, 0.089, 0.004), (1.76, 0.094, 0.004), (1.87, 0.105, 0.006), (2.47, 0.157, 0.006), (2.74, 0.206, 0.006), (2.78, 0.228, 0.006), (3.6, 0.252, 0.006), (3.78, 0.257, 0.006)]
e94_19 = [(2.43, 0.151, 0.005), (2.53, 0.149, 0.005), (2.7, 0.17, 0.005), (3.0, 0.219, 0.005), (3.85, 0.241, 0.008)]
e94_21 = [(1.54, 0.078, 0.004), (1.62, 0.072, 0.004), (1.78, 0.081, 0.004), (2.23, 0.176, 0.006), (2.93, 0.222, 0.008), (3.33, 0.2, 0.006), (3.46, 0.206, 0.006)]
e94_23 = [(1.57, 0.059, 0.004), (2.31, 0.137, 0.004), (2.57, 0.121, 0.005), (2.72, 0.166, 0.008)]
e94_25 = [(1.38, 0.043, 0.006), (2.13, 0.096, 0.004), (2.27, 0.148, 0.006), (2.67, 0.127, 0.004), (2.81, 0.168, 0.004)]
e94_27 = [(1.62, 0.043, 0.004), (2.6, 0.113, 0.004), (2.88, 0.17, 0.006), (3.0, 0.166, 0.006)]
e94_29 = [(2.09, 0.069, 0.004), (2.2, 0.102, 0.006), (2.24, 0.117, 0.006), (2.27, 0.119, 0.006)]
e94_31 = [(1.38, 0.024, 0.003), (1.58, 0.037, 0.003), (2.03, 0.055, 0.003)]
e94_35 = [(1.33, 0.006, 0.002), (1.42, 0.031, 0.002), (1.53, 0.034, 0.002), (2.68, 0.09, 0.006), (3.35, 0.116, 0.008), (3.56, 0.132, 0.01)]
e94_40 = [(1.42, 0.024, 0.002), (1.48, 0.024, 0.002), (2.1, 0.053, 0.004), (2.18, 0.058, 0.003), (2.64, 0.057, 0.005)]
e94_45 = [(1.55, 0.016, 0.002), (1.6, 0.02, 0.002), (1.66, 0.019, 0.002), (1.92, 0.024, 0.002), (2.08, 0.036, 0.003), (2.15, 0.042, 0.004)]

e99_03 = [(4.0, 0.223, 0.003), (4.2, 0.225, 0.003)]
e99_05 = [(3.12, 0.276, 0.003)]
e99_13 = [(3.27, 0.267, 0.003)]
e99_17 = [(3.98, 0.266, 0.003)]

e00_05 = [(3.3, 0.282, 0.01), (3.38, 0.286, 0.02), (3.46, 0.296, 0.02), (4.45, 0.293, 0.015)]
e00_07 = [(2.65, 0.289, 0.012), (3.45, 0.317, 0.04), (3.65, 0.313, 0.02), (3.9, 0.313, 0.015), (4.45, 0.313, 0.01)]
e00_09 = [(1.8, 0.149, 0.01), (1.9, 0.146, 0.015), (1.98, 0.153, 0.01), (2.07, 0.187, 0.01), (2.55, 0.224, 0.01), (2.76, 0.313, 0.01), (3.82, 0.33, 0.02)]

e116_40 = [(3.7, 0.108, 0.002), (3.8, 0.112, 0.002), (3.9, 0.118, 0.002), (4.0, 0.121, 0.002), (4.1, 0.128, 0.002), (4.2, 0.14, 0.002), (4.3, 0.152, 0.002), (4.4, 0.155, 0.002)]
e116_45 = [(2.78, 0.058, 0.002), (2.85, 0.067, 0.002), (2.99, 0.074, 0.002), (3.09, 0.072, 0.002), (3.21, 0.076, 0.002), (3.3, 0.079, 0.002), (3.4, 0.086, 0.002), (3.5, 0.088, 0.002), (3.68, 0.094, 0.002), (3.8, 0.092, 0.002), (3.98, 0.1, 0.002), (4.1, 0.104, 0.002), (4.25, 0.108, 0.002), (4.38, 0.133, 0.003), (4.42, 0.13, 0.003)]
e116_50 = [(1.87, 0.018, 0.001), (1.98, 0.02, 0.001), (2.08, 0.026, 0.001), (2.2, 0.032, 0.001), (2.34, 0.039, 0.001), (2.45, 0.043, 0.001), (2.52, 0.041, 0.001), (2.58, 0.039, 0.001), (2.62, 0.035, 0.001), (2.72, 0.036, 0.001), (2.9, 0.046, 0.001), (3.05, 0.058, 0.001), (3.15, 0.064, 0.001), (3.2, 0.07, 0.001), (3.3, 0.062, 0.001), (3.5, 0.068, 0.001), (3.6, 0.072, 0.001), (3.8, 0.075, 0.001), (4.0, 0.08, 0.001), (4.2, 0.087, 0.001), (4.45, 0.101, 0.001)]

# ---------------- style ----------------
GREEN = '#009e73'
RED = '#e51e10'
LBLUE = '#56b4e9'
BLUE = '#0000ff'
MAGENTA = '#ff00ff'
VIOLET = '#9400d3'

FIG_W, FIG_H = 1183, 1772
X0, CW = 13, 280.5
Y0, RH = 7, 340

fig = plt.figure(figsize=(FIG_W / 100, FIG_H / 100), dpi=100)


def panel_axes(col, row):
    return fig.add_axes([(X0 + CW * col) / FIG_W, 1 - (Y0 + RH * (row + 1)) / FIG_H, CW / FIG_W, RH / FIG_H])


col_fmax = [0.5, 0.4, 0.3, 0.2]
col_ticks = [[0, 0.1, 0.2, 0.3, 0.4, 0.5], [0.1, 0.2, 0.3], [0.05, 0.15, 0.25], [0.05, 0.1, 0.15]]


def style_axes(ax, col, row, show_w2=True):
    ax.set_yscale('log')
    ax.set_ylim(1.15, 4.5)
    ax.set_xlim(col_fmax[col], 0)
    ax.yaxis.set_major_locator(FixedLocator([1.5, 2, 3, 4]))
    ax.yaxis.set_minor_locator(NullLocator())
    ax.set_yticklabels(['1.5', '2', '3', '4'])
    ax.xaxis.set_major_locator(FixedLocator(col_ticks[col]))
    ax.set_xticklabels([f'{t:g}' for t in col_ticks[col]])
    bottom_row = row == 4
    right_col = col == 3 and show_w2
    ax.tick_params(which='both', direction='in', top=True, right=True, length=4, width=0.9,
                   labelsize=10, labelbottom=bottom_row, labelleft=False, labelright=right_col)
    ax.tick_params(axis='x', pad=11, labelrotation=90)
    ax.tick_params(axis='y', pad=9, labelrotation=90)
    for lab in ax.get_yticklabels():
        lab.set_va('center')
    for s in ax.spines.values():
        s.set_linewidth(1.3)
    if right_col:
        ax.text(1.14, 0.5, r'W$^2$  (GeV$^2$)', transform=ax.transAxes, rotation=90,
                ha='center', va='center', fontsize=13.5)
    if bottom_row:
        ax.text(0.5, -0.155, r'F$_2$', transform=ax.transAxes, rotation=180,
                ha='center', va='center', fontsize=13.5)


def draw_clas(ax, w2, f2, err):
    pts = [(w, f, e) for w, f, e in zip(w2, f2, err) if f > 0]
    if not pts:
        return
    w = [p[0] for p in pts]
    f = [p[1] for p in pts]
    e = [p[2] for p in pts]
    ax.errorbar(f, w, xerr=e, fmt='none', ecolor=GREEN, elinewidth=1.1, alpha=0.65, zorder=2)
    ax.plot(f, w, linestyle='none', marker='+', color=GREEN, ms=6.5, mew=1.1, zorder=2.1)


def draw_points(ax, pts, marker, color, ms, mfc=None, ecolor=None, zorder=3):
    if not pts:
        return
    w = [p[0] for p in pts]
    f = [p[1] for p in pts]
    e = [p[2] for p in pts]
    ax.errorbar(f, w, xerr=e, fmt='none', ecolor=ecolor or color, elinewidth=1.0, alpha=0.75, zorder=zorder)
    ax.plot(f, w, linestyle='none', marker=marker, color=color, ms=ms,
            mfc=mfc if mfc is not None else color, mec=color, mew=1.0, zorder=zorder + 0.1)


panels = [
    (0, 4, tw_03, cb_03, bg_03, clas_03, clas2_03, [], err_03, [], e94_03, e99_03, [], []),
    (0, 3, tw_05, cb_05, bg_05, clas_05, clas2_05, [], err_05, [], e94_05, e99_05, e00_05, []),
    (0, 2, tw_07, cb_07, bg_07, clas_07, clas2_07, [], err_07, slac_07, e94_07, [], e00_07, []),
    (0, 1, tw_09, cb_09, bg_09, clas_09, clas2_09, [], err_09, slac_09, e94_09, [], e00_09, []),
    (0, 0, tw_11, cb_11, bg_11, clas_11, clas2_11, [], err_11, slac_11, e94_11, [], [], []),
    (1, 4, tw_13, cb_13, bg_13, clas_13, clas2_13, [], err_13, slac_13, e94_13, e99_13, [], []),
    (1, 3, tw_15, cb_15, bg_15, clas_15, clas2_15, [], err_b, slac_15, e94_15, [], [], []),
    (1, 2, tw_17, cb_17, bg_17, clas_17, clas2_17, [], err_b, slac_17, e94_17, e99_17, [], []),
    (1, 1, tw_19, cb_19, bg_19, clas_19, clas2_19, [], err_b, slac_19, e94_19, [], [], []),
    (1, 0, tw_21, cb_21, bg_21, clas_21, clas2_21, [], err_b, slac_21, e94_21, [], [], []),
    (2, 4, tw_23, cb_23, bg_23, clas_23, clas2_23, clas3_23, err_c, slac_23, e94_23, [], [], []),
    (2, 3, tw_25, cb_25, bg_25, clas_25, clas2_25, clas3_25, err_c, slac_25, e94_25, [], [], []),
    (2, 2, tw_27, cb_27, bg_27, clas_27, clas2_27, clas3_27, err_c, slac_27, e94_27, [], [], []),
    (2, 1, tw_29, cb_29, bg_29, clas_29, clas2_29, clas3_29, err_c, [], e94_29, [], [], []),
    (2, 0, tw_31, cb_31, bg_31, clas_31, clas2_31, clas3_31, err_c, [], e94_31, [], [], []),
    (3, 4, tw_35, cb_35, bg_35, clas_35, clas2_35, clas3_35, err_d, slac_35, e94_35, [], [], []),
    (3, 3, tw_40, cb_40, bg_40, clas_40, clas2_40, clas3_40, err_d, slac_40, e94_40, [], [], e116_40),
    (3, 2, tw_45, cb_45, bg_45, clas_45, clas2_45, clas3_45, err_45, slac_45, e94_45, [], [], e116_45),
    (3, 1, tw_50, cb_50, bg_50, [], [], [], [], slac_50, [], [], [], e116_50),
]

for label, (col, row, tw, cb, bg, clas, clas2, clas3, err, slac, e94, e99, e00, e116) in zip(q2_labels, panels):
    ax = panel_axes(col, row)
    style_axes(ax, col, row)
    draw_clas(ax, w2_clas, clas, err)
    draw_clas(ax, w2_clas_mid, clas2, err)
    draw_clas(ax, w2_clas_q, clas3, err)
    draw_points(ax, e116, 'o', LBLUE, 5.5, mfc='none')
    draw_points(ax, e94, '>', RED, 5.5)
    draw_points(ax, e99, 'D', BLUE, 4)
    draw_points(ax, e00, 'D', MAGENTA, 4)
    draw_points(ax, slac, 'o', 'black', 6)
    ax.plot(bg, w2_bg, color='black', lw=1.0, linestyle=(0, (1, 2.5)), zorder=4)
    ax.plot(cb, w2_grid, color=VIOLET, lw=1.0, linestyle=(0, (5, 4)), zorder=4.5)
    ax.plot(tw, w2_grid, color='black', lw=1.1, zorder=5)
    ax.text(0.1, 0.40, r'Q$^2$ = ' + label + r' GeV$^2$', transform=ax.transAxes, rotation=90,
            ha='center', va='center', fontsize=13.5)

# legend panel
lax = panel_axes(3, 0)
style_axes(lax, 3, 0, show_w2=False)
lax.text(0.062, 0.403, 'Legend', transform=lax.transAxes, rotation=90, rotation_mode='anchor',
         ha='left', va='center', fontsize=13.5)
legend_entries = [
    ('SLAC (Whitlow)', 'black', 'black', 'o', 'black', '-'),
    ('JLab CLAS', GREEN, GREEN, '+', GREEN, '-'),
    ('JLab E94-110', '#f07068', RED, '>', RED, '-'),
    ('JLAB E00-116', LBLUE, LBLUE, 'o', 'none', '-'),
    ('JLab E99-118 R', '#6060ff', BLUE, 'D', BLUE, '-'),
    ('JLab E00-002 R', MAGENTA, MAGENTA, 'D', MAGENTA, '-'),
    ('This work', 'black', None, None, None, '-'),
    ('Background', 'black', None, None, None, (0, (1, 2.5))),
    ('CB fit', VIOLET, None, None, None, (0, (5, 4))),
]
for k, (name, lcol, mcol, mk, mfc, ls) in enumerate(legend_entries):
    x = 0.191 + 0.0749 * k
    lax.plot([x, x], [0.253, 0.403], transform=lax.transAxes, color=lcol, lw=1.1, linestyle=ls)
    if mk:
        lax.plot([x], [0.331], transform=lax.transAxes, marker=mk, color=mcol, mec=mcol,
                 mfc=mfc, ms=6 if mk != 'D' else 4.5, mew=1.0, linestyle='none')
    lax.text(x, 0.432, name, transform=lax.transAxes, rotation=90, rotation_mode='anchor',
             ha='left', va='center', fontsize=10)

fig.savefig('out.png', dpi=100)
